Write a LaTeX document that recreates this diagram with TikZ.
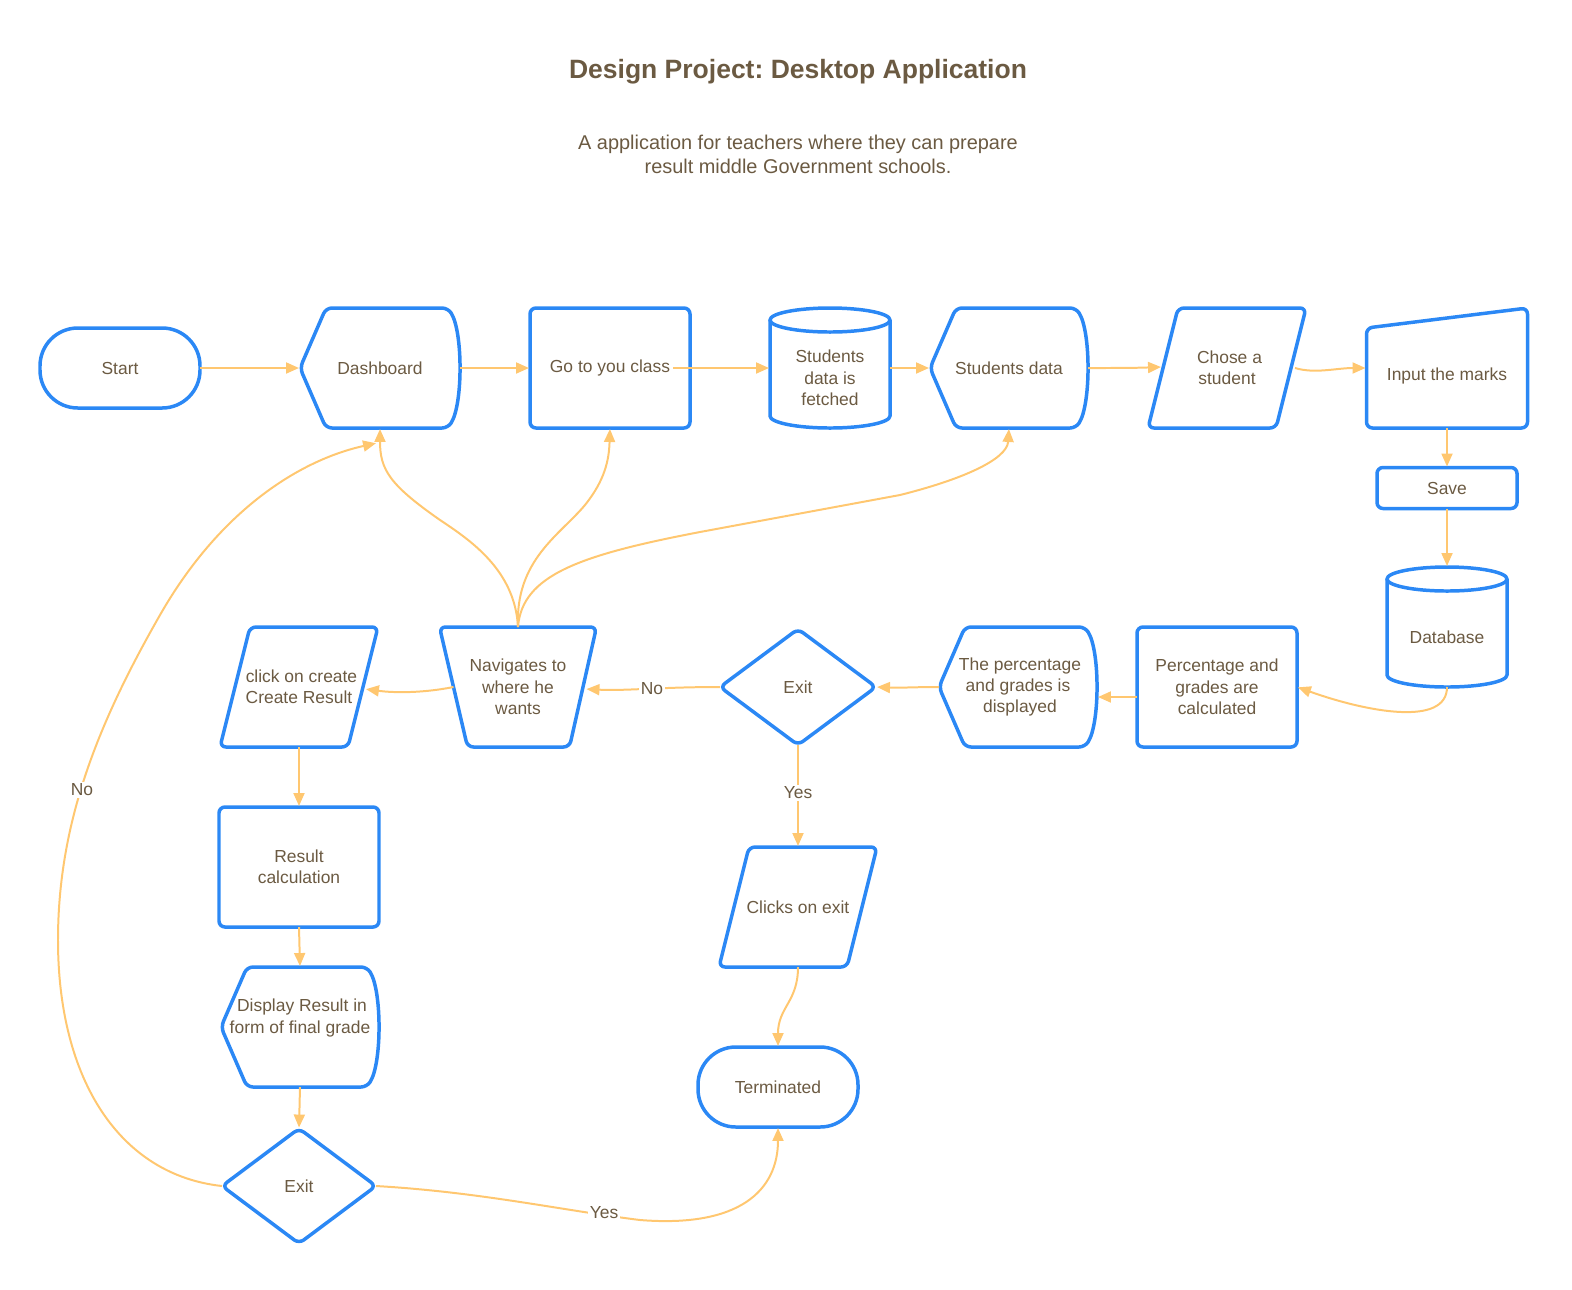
\documentclass[tikz,border=0pt]{standalone}
\usepackage{fontspec}
\setmainfont{Liberation Sans}
\usetikzlibrary{calc,arrows.meta}
\definecolor{bl}{RGB}{43,136,245}
\definecolor{og}{RGB}{255,199,112}
\definecolor{tc}{RGB}{107,90,66}
\frenchspacing
\newcommand\dispsh[1]{\draw[shp] (#1.west) -- ($(#1.north west)+(26,0)$) -- ($(#1.north east)+(-12,0)$) .. controls ($(#1.north east)+(3,24)$) and ($(#1.south east)+(3,-24)$) .. ($(#1.south east)+(-12,0)$) -- ($(#1.south west)+(26,0)$) -- cycle;}
\newcommand\paralsh[1]{\draw[shp] ($(#1.north west)+(30,0)$) -- (#1.north east) -- ($(#1.south east)+(-30,0)$) -- (#1.south west) -- cycle;}
\newcommand\diamsh[1]{\draw[shp] (#1.north) -- (#1.east) -- (#1.south) -- (#1.west) -- cycle;}
\newcommand\cylsh[1]{\draw[shp,rounded corners=0pt] ($(#1.north west)+(0,12)$) -- ($(#1.south west)+(0,-12)$) arc[start angle=180,end angle=360,x radius=60bp,y radius=12bp] -- ($(#1.north east)+(0,12)$);
\draw[shp,rounded corners=0pt] ($(#1.north)+(0,12)$) ellipse[x radius=60bp,y radius=12bp];}
\begin{document}
\begin{tikzpicture}[x=1bp,y=-1bp,
  tx/.style={text=tc,font=\fontsize{17.5}{21.5}\selectfont,align=center,inner sep=0pt,outer sep=0pt},
  sz/.style 2 args={minimum width=#1bp,minimum height=#2bp},
  shp/.style={draw=bl,line width=3.5pt,line join=round,rounded corners=6pt},
  rbox/.style={tx,draw=bl,line width=3.5pt,rounded corners=6pt},
  stad/.style={tx,draw=bl,line width=3.5pt,rounded corners=38pt},
  arr/.style={draw=og,line width=2pt,-{Triangle[length=13pt,width=11pt]},shorten >=1pt},
  lab/.style={tx,fill=white,inner sep=1.5pt}]
\useasboundingbox (0,0) rectangle (1572,1289);

% title
\node[text=tc,font=\bfseries\fontsize{26.6}{30}\selectfont,inner sep=0pt] (title) at (798,72) {Design Project: Desktop Application};
\node[tx,font=\fontsize{20}{24}\selectfont] (sub) at (798,154) {A application for teachers where they can prepare\\result middle Government schools.};

% nodes
\node[stad,sz={160}{80}] (start) at (120,368) {Start};
\node[tx,sz={160}{120}] (dash) at (380,368) {Dashboard};
\node[rbox,sz={160}{120}] (go) at (610,368) {\raisebox{4pt}{Go to you class}};
\node[tx,sz={120}{120},label={[tx,name=fetchtxt,yshift=-10pt]center:Students\\data is\\fetched}] (fetch) at (830,368) {};
\node[tx,sz={158}{120}] (sdata) at (1009,368) {Students data};
\node[tx,sz={158}{120}] (chose) at (1227,368) {\hspace*{5pt}Chose a\\student};
\node[tx,sz={161}{120},label={[tx,name=inputtxt,yshift=-8pt]center:Input the marks}] (input) at (1447,368) {};
\node[rbox,sz={140}{41}] (save) at (1447,488) {Save};
\node[tx,sz={120}{120},label={[tx,name=dbtxt,yshift=-10pt]center:Database}] (db) at (1447,627) {};
\node[rbox,sz={160}{120}] (pcalc) at (1217,687) {Percentage and\\grades are\\calculated};
\node[tx,sz={158}{120}] (pdisp) at (1018,687) {\hspace*{4pt}The percentage\\and grades is\\\hspace*{4pt}displayed};
\node[tx,sz={156}{116}] (exit1) at (798,687) {Exit};
\node[tx,sz={157}{120}] (nav) at (518,687) {Navigates to\\where he\\wants};
\node[tx,sz={158}{120}] (click) at (299,687) {\hspace*{5pt}click on create\\Create Result};
\node[rbox,sz={160}{120}] (rcalc) at (299,867) {Result\\calculation};
\node[tx,sz={158}{120},label={[tx,name=disptxt,yshift=9pt]center:\hspace*{4pt}Display Result in\\form of final grade}] (disp) at (300,1027) {};
\node[tx,sz={154}{115}] (exit2) at (299,1186) {Exit};
\node[tx,sz={158}{120}] (clicks) at (798,907) {Clicks on exit};
\node[stad,sz={160}{80}] (term) at (778,1087) {Terminated};

% outlines
\dispsh{dash}
\cylsh{fetch}
\dispsh{sdata}
\paralsh{chose}
\draw[shp] ($(input.north west)+(0,20)$) -- (input.north east) -- (input.south east) -- (input.south west) -- cycle;
\cylsh{db}
\dispsh{pdisp}
\diamsh{exit1}
\draw[shp] (nav.north west) -- (nav.north east) -- ($(nav.south east)+(-27,0)$) -- ($(nav.south west)+(28,0)$) -- cycle;
\paralsh{click}
\dispsh{disp}
\diamsh{exit2}
\paralsh{clicks}

% connectors
\coordinate (dashin) at ($(dash.south)+(-3,15)$);
\draw[arr] (start.east) -- (dash.west);
\draw[arr] (dash.east) -- (go.west);
\draw[arr] ($(go.east)+(-17,0)$) -- (fetch.west);
\draw[arr] (fetch.east) -- (sdata.west);
\draw[arr] (sdata.east) .. controls +(30,0) and +(-30,1) .. ($(chose.west)+(14,-1)$);
\draw[arr] ($(chose.east)+(-11,0)$) .. controls +(20,6) and +(-30,0) .. (input.west);
\draw[arr] (input.south) -- (save.north);
\draw[arr] (save.south) -- (db.north);
\draw[arr] (db.south) .. controls +(0,40) and +(70,25) .. (pcalc.east);
\draw[arr] ($(pcalc.west)+(0,10)$) -- ($(pdisp.east)+(0,10)$);
\draw[arr] (pdisp.west) .. controls +(-25,0) and +(25,1) .. (exit1.east);
\draw[arr] (exit1.west) .. controls +(-60,0) and +(40,2) .. ($(nav.east)+(-11,2)$);
\draw[arr] ($(nav.west)+(14,0)$) .. controls +(-30,6) and +(30,4) .. ($(click.east)+(-13,2)$);
\draw[arr] (nav.north) .. controls (515,570) and (470,540) .. (440,520) .. controls (390,485) and (380,470) .. (dash.south);
\draw[arr] (nav.north) .. controls (515,560) and (560,535) .. (585,505) .. controls (605,480) and (609,460) .. (go.south);
\draw[arr] (nav.north) .. controls (522,575) and (580,555) .. (700,532) -- (900,495) .. controls (960,480) and (1007,460) .. (sdata.south);
\draw[arr] (click.south) -- (rcalc.north);
\draw[arr] (rcalc.south) -- (disp.north);
\draw[arr] (disp.south) -- (exit2.north);
\draw[arr] (exit2.west) .. controls (120,1175) and (58,1080) .. (58,940) .. controls (58,820) and (100,720) .. (160,615) .. controls (220,510) and (300,460) .. (dashin);
\draw[arr] (exit2.east) .. controls (480,1192) and (560,1210) .. (640,1220) .. controls (740,1228) and (778,1190) .. (term.south);
\draw[arr] (exit1.south) -- (clicks.north);
\draw[arr] (clicks.south) .. controls +(0,35) and +(0,-40) .. (term.north);

% labels
\node[lab] (no1) at (652,689) {No};
\node[lab] (yes1) at (798,793) {Yes};
\node[lab] (no2) at (82,790) {No};
\node[lab] (yes2) at (604,1213) {Yes};
\end{tikzpicture}
\end{document}
